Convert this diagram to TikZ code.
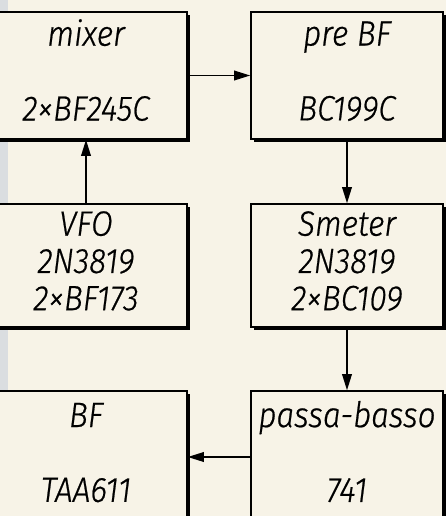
\documentclass[tikz,border=0pt]{standalone}
\usepackage{fontspec}
\newfontfamily\dinfont{Fira Sans Light}[FakeStretch=0.9,FakeBold=0.6]
\usepackage{tikz}
\usetikzlibrary{arrows.meta,positioning,shadows}
\definecolor{paper}{HTML}{F7F3E7}
\definecolor{scanedge}{HTML}{DADDE0}

\begin{document}
\begin{tikzpicture}[
  font=\dinfont\itshape\fontsize{25}{26.5}\selectfont,
  blk/.style={draw=black, line width=1.1pt, fill=paper, minimum width=4.8cm, align=center, inner sep=0pt,
    drop shadow={shadow xshift=0.07cm, shadow yshift=-0.07cm, fill=black, opacity=1}},
  flow/.style={line width=1.1pt, -{Triangle[length=4mm,width=2.4mm]}}
]
\useasboundingbox (0,0) rectangle (11.15,-12.9);
\clip (0,0) rectangle (11.15,-12.9);
\fill[paper] (0,0) rectangle (11.15,-12.9);
\fill[scanedge] (0,0) rectangle (0.2,-12.9);

% top row
\node[blk, minimum width=5.05cm, minimum height=3.175cm] (mixer) at (2.15,-1.8875) {mixer\strut\\[0.94cm]2×BF245C\strut};
\node[blk, minimum height=3.175cm] (preBF) at (8.675,-1.8875) {pre BF\strut\\[0.94cm]BC199C\strut};

% middle row
\node[blk, minimum width=5.05cm, minimum height=3.075cm] (vfo) at (2.15,-6.6375) {VFO\strut\\2N3819\\2×BF173\strut};
\node[blk, minimum height=3.075cm] (smeter) at (8.675,-6.6375) {Smeter\strut\\2N3819\\2×BC109\strut};

% bottom row
\node[blk, minimum width=5.05cm, minimum height=3.3cm] (bf) at (2.15,-11.425) {BF\strut\\[0.94cm]TAA611\strut};
\node[blk, minimum height=3.3cm] (passabasso) at (8.675,-11.425) {passa-basso\strut\\[0.94cm]741\strut};

\draw[flow] (vfo.north) -- (mixer.south);
\draw[flow] (mixer.east) -- (preBF.west);
\draw[flow] (preBF.south) -- (smeter.north);
\draw[flow] (smeter.south) -- (passabasso.north);
\draw[flow] (passabasso.west) -- (bf.east);
\end{tikzpicture}
\end{document}
